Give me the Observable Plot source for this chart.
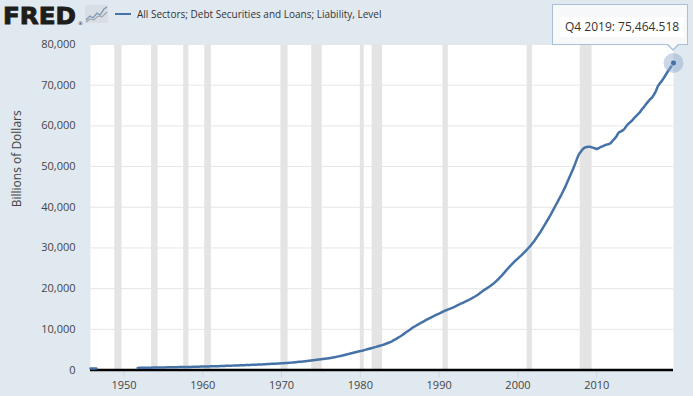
<!DOCTYPE html>
<html>
<head>
<meta charset="utf-8">
<script src="https://cdn.jsdelivr.net/npm/d3@7"></script>
<script src="https://cdn.jsdelivr.net/npm/@observablehq/plot@0.6"></script>
<style>
  html, body { margin: 0; padding: 0; background: #e1e9f0; }
  body { width: 693px; height: 396px; overflow: hidden; position: relative; font-family: "Open Sans", sans-serif; }
  #header { position: relative; height: 30px; }
  #logo { position: absolute; left: 1px; top: 0px; overflow: visible; }
  #icon { position: absolute; left: 85px; top: 5px; }
  #legend { position: absolute; left: 115px; top: 6px; display: flex; align-items: center; height: 16px; }
  #legend .swatch { width: 16px; height: 2px; background: #4572a7; margin-right: 6px; }
  #legend .label { font-size: 10px; color: #333; white-space: nowrap; }
  #chart svg { display: block; }
  #tip { position: absolute; width: 134px; height: 39px; border: 1px solid #a9c0d8; background: rgba(248,249,251,0.92); box-sizing: content-box; }
  #tip .inner { position: absolute; left: 7px; top: 12px; height: 20px; line-height: 20px; padding: 0 5px; background: #fff; font-size: 12px; color: #333; white-space: nowrap; }
  #tip .arrow { position: absolute; width: 0; height: 0; border-left: 6px solid transparent; border-right: 6px solid transparent; border-top: 6px solid #a9c0d8; }
  #tip .arrow2 { position: absolute; width: 0; height: 0; border-left: 5px solid transparent; border-right: 5px solid transparent; border-top: 5px solid #f8f9fb; }
</style>
</head>
<body>
<div id="header">
  <svg id="logo" width="84" height="30">
    <text x="2" y="24" textLength="73" lengthAdjust="spacingAndGlyphs" font-family="DejaVu Sans" font-weight="bold" font-size="23" fill="#1d1d1b" stroke="#1d1d1b" stroke-width="0.9">FRED</text>
    <text x="77" y="25" font-family="DejaVu Sans" font-size="5" fill="#1d1d1b">®</text>
  </svg>
  <svg id="icon" width="23" height="18">
    <rect x="0" y="0" width="23" height="18" fill="#d9dee4"/>
    <polyline points="1,15 5,11 8,13 12,8 15,10 19,4 22,2" fill="none" stroke="#7d96b8" stroke-width="1.3"/>
    <polyline points="1,17 5,14 9,15 13,11 17,12 22,7" fill="none" stroke="#9aa3ad" stroke-width="1.1"/>
  </svg>
  <div id="legend"><div class="swatch"></div><div class="label"></div></div>
</div>
<div id="chart"></div>
<div id="tip"><div class="inner"></div><div class="arrow"></div><div class="arrow2"></div></div>
<script>
// ---- Data ----
const seriesLabel = "All Sectors; Debt Securities and Loans; Liability, Level";
const yLabel = "Billions of Dollars";

// Early annual-era fragment, quarterly from 1945 Q4
const earlyStart = "1945-10-01";
const earlyValues = [355, 357, 360, 362];

// Quarterly series starting 1951 Q4 (billions of dollars)
const mainStart = "1951-10-01";
const values = [
  520,
  527, 535, 545, 555,
  562, 570, 577, 585,
  590, 597, 605, 615,
  626, 638, 651, 665,
  672, 681, 690, 700,
  708, 716, 725, 735,
  744, 753, 766, 780,
  793, 806, 820, 835,
  845, 856, 867, 880,
  892, 905, 919, 935,
  950, 966, 983, 1000,
  1017, 1036, 1055, 1075,
  1093, 1112, 1130, 1150,
  1170, 1191, 1212, 1235,
  1253, 1272, 1290, 1310,
  1330, 1353, 1376, 1400,
  1426, 1453, 1481, 1510,
  1537, 1565, 1592, 1620,
  1645, 1672, 1700, 1730,
  1770, 1812, 1855, 1900,
  1950, 2002, 2055, 2110,
  2170, 2232, 2290, 2350,
  2408, 2466, 2522, 2580,
  2635, 2693, 2755, 2820,
  2895, 2975, 3060, 3150,
  3248, 3350, 3458, 3570,
  3690, 3812, 3935, 4060,
  4185, 4310, 4435, 4560,
  4650, 4740, 4875, 5020,
  5150, 5285, 5420, 5560,
  5690, 5830, 5970, 6120,
  6280, 6450, 6630, 6820,
  7060, 7320, 7590, 7880,
  8170, 8480, 8810, 9200,
  9520, 9850, 10190, 10550,
  10820, 11100, 11370, 11650,
  11910, 12180, 12440, 12700,
  12940, 13180, 13420, 13650,
  13880, 14120, 14370, 14600,
  14760, 14950, 15140, 15350,
  15570, 15810, 16040, 16300,
  16510, 16730, 16960, 17200,
  17460, 17740, 18010, 18300,
  18640, 18990, 19330, 19700,
  20000, 20320, 20640, 21000,
  21420, 21850, 22300, 22800,
  23320, 23860, 24420, 25000,
  25500, 26000, 26500, 27000,
  27420, 27860, 28300, 28800,
  29300, 29800, 30300, 30900,
  31500, 32200, 32900, 33600,
  34400, 35200, 36000, 36800,
  37600, 38500, 39400, 40300,
  41200, 42100, 43000, 44000,
  45000, 46100, 47200, 48300,
  49400, 50600, 51900, 53000,
  53700, 54300, 54700, 54800,
  54900, 54800, 54650, 54500,
  54300, 54500, 54800, 54950,
  55200, 55400, 55500, 55700,
  56300, 56800, 57400, 58300,
  58600, 58800, 59200, 59900,
  60500, 60900, 61300, 61900,
  62400, 62900, 63400, 64100,
  64600, 65300, 65900, 66500,
  66900, 67600, 68500, 69700,
  70400, 71000, 71700, 72500,
  73300, 74000, 74700, 75464.518
];

// NBER recessions (shaded)
const recessionStarts = ["1948-11-01","1953-07-01","1957-08-01","1960-04-01","1969-12-01","1973-11-01","1980-01-01","1981-07-01","1990-07-01","2001-03-01","2007-12-01"];
const recessionEnds   = ["1949-10-01","1954-05-01","1958-04-01","1961-02-01","1970-11-01","1975-03-01","1980-07-01","1982-11-01","1991-03-01","2001-11-01","2009-06-01"];

const yTicks = [0, 10000, 20000, 30000, 40000, 50000, 60000, 70000, 80000];
const xTickYears = [1950, 1960, 1970, 1980, 1990, 2000, 2010];
const xDomain = ["1945-10-01", "2019-10-01"];

// ---- Build ----
function quarterly(start, vals) {
  const d0 = new Date(start);
  return vals.map((v, i) => ({date: d3.utcMonth.offset(d0, 3 * i), value: v}));
}
const data = [
  ...quarterly(earlyStart, earlyValues),
  {date: new Date("1946-10-01"), value: null},
  ...quarterly(mainStart, values)
];
const last = data[data.length - 1];
const recessions = recessionStarts.map((s, i) => ({start: new Date(s), end: new Date(recessionEnds[i])}));
const xTicks = xTickYears.map(y => new Date(Date.UTC(y, 0, 1)));

document.querySelector("#legend .label").textContent = seriesLabel;

const chart = Plot.plot({
  width: 693,
  height: 366,
  marginTop: 14,
  marginBottom: 26.5,
  marginLeft: 90,
  marginRight: 20,
  style: {background: "transparent", fontFamily: "Open Sans", fontSize: "11px", color: "#444", overflow: "visible"},
  x: {type: "utc", domain: xDomain.map(d => new Date(d))},
  y: {domain: [0, 80000]},
  marks: [
    Plot.frame({fill: "white", stroke: "none"}),
    Plot.gridY(yTicks, {stroke: "#e6e6e6", strokeOpacity: 1, strokeWidth: 1}),
    Plot.rect(recessions, {x1: "start", x2: "end", fill: "#e4e4e4"}),
    Plot.axisY(yTicks, {tickSize: 0, tickPadding: 15, tickFormat: d3.format(","), label: null, fill: "#444", fontSize: 11}),
    Plot.axisX(xTicks, {tickSize: 8, tickPadding: 3, stroke: "#ccd6eb", fill: "#444", tickFormat: d3.utcFormat("%Y"), label: null, fontSize: 11}),
    Plot.text([yLabel], {frameAnchor: "left", dx: -73, rotate: -90, fontSize: 12, fill: "#444", text: d => d}),
    Plot.ruleY([0], {stroke: "black", strokeWidth: 2.5}),
    Plot.line(data, {x: "date", y: "value", stroke: "#4572a7", strokeWidth: 2.5, strokeLinejoin: "round"}),
    Plot.dot([last], {x: "date", y: "value", r: 10, fill: "#8aa6c8", fillOpacity: 0.45}),
    Plot.dot([last], {x: "date", y: "value", r: 3, fill: "#4572a7", stroke: "white", strokeWidth: 0.5})
  ]
});
document.getElementById("chart").append(chart);

// Tooltip positioned from the plot's scales
const headerH = document.getElementById("header").offsetHeight;
const px = chart.scale("x").apply(last.date);
const py = chart.scale("y").apply(last.value) + headerH;
const tip = document.getElementById("tip");
const q = Math.floor(last.date.getUTCMonth() / 3) + 1;
tip.querySelector(".inner").textContent = `Q${q} ${last.date.getUTCFullYear()}: ${d3.format(",.3f")(last.value)}`;
const boxW = 136, boxH = 41;
const left = px + 15 - boxW;
const bottom = py - 17;
tip.style.left = left + "px";
tip.style.top = (bottom - boxH) + "px";
const ax = px - left - 1;
const arrow = tip.querySelector(".arrow");
arrow.style.left = (ax - 6) + "px";
arrow.style.top = (boxH - 1) + "px";
const arrow2 = tip.querySelector(".arrow2");
arrow2.style.left = (ax - 5) + "px";
arrow2.style.top = (boxH - 2) + "px";
</script>
</body>
</html>
